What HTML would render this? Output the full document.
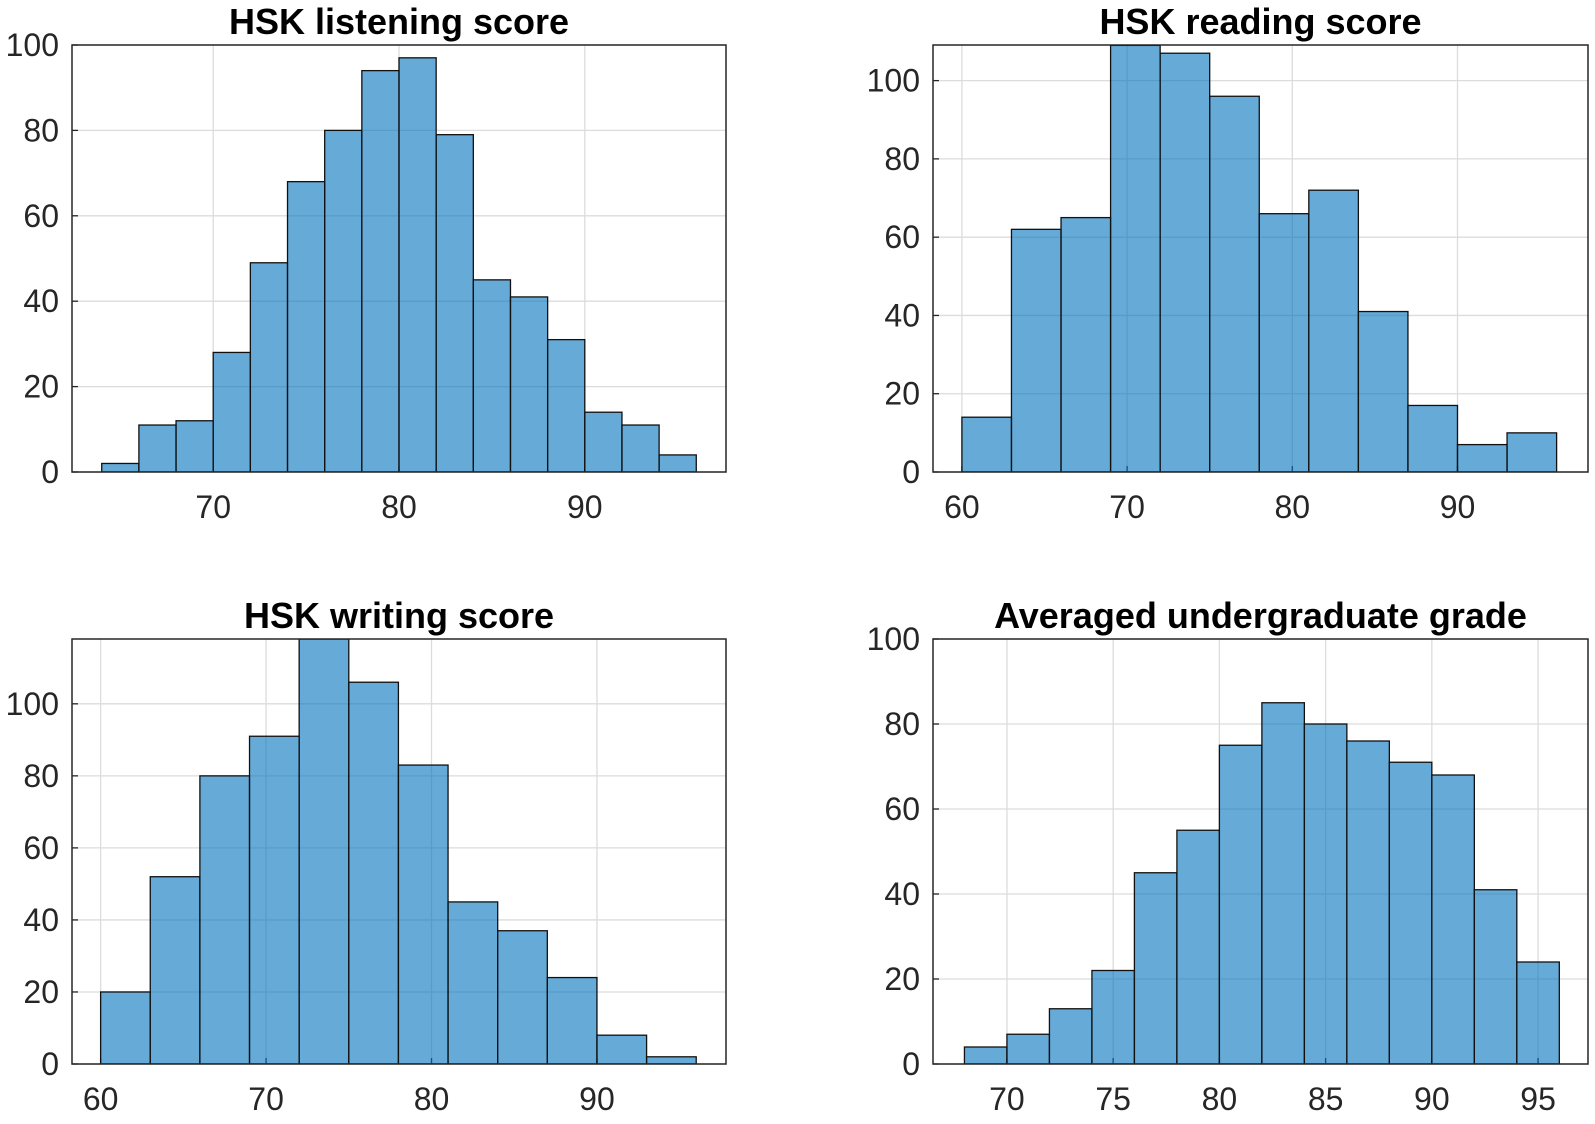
<!DOCTYPE html>
<html><head><meta charset="utf-8"><style>
body{margin:0;background:#fff;}
svg text{font-family:"Liberation Sans",Arial,sans-serif;}
</style></head><body>
<svg id="chart" width="1595" height="1119" xmlns="http://www.w3.org/2000/svg"></svg>
<script>
const titles=["HSK listening score","HSK reading score","HSK writing score","Averaged undergraduate grade"];
const binStarts=[64,60,60,68];
const binWidths=[2,3,3,2];
const listeningCounts=[2,11,12,28,49,68,80,94,97,79,45,41,31,14,11,4];
const readingCounts=[14,62,65,109,107,96,66,72,41,17,7,10];
const writingCounts=[20,52,80,91,118,106,83,45,37,24,8,2];
const gradeCounts=[4,7,13,22,45,55,75,85,80,76,71,68,41,24];
const xTicks=[[70,80,90],[60,70,80,90],[60,70,80,90],[70,75,80,85,90,95]];
const yTicks=[[0,20,40,60,80,100],[0,20,40,60,80,100],[0,20,40,60,80,100],[0,20,40,60,80,100]];
const xDomains=[[62.4,97.6],[58.25,97.9],[58.27,97.8],[66.52,97.35]];
const yMaxes=[100,109.1,118,100];
const counts=[listeningCounts,readingCounts,writingCounts,gradeCounts];
const boxes=[[72,45,726,472],[933,45,1588,472],[72,639,726,1064],[933,639,1588,1064]];
const NS="http://www.w3.org/2000/svg";
const svg=document.getElementById('chart');
function mk(t,a,p){const e=document.createElementNS(NS,t);for(const k in a)e.setAttribute(k,a[k]);(p||svg).appendChild(e);return e;}
for(let i=0;i<4;i++){
  const [x0,y0,x1,y1]=boxes[i];
  const [d0,d1]=xDomains[i];
  const xs=v=>x0+(v-d0)/(d1-d0)*(x1-x0);
  const ys=v=>y1-v/yMaxes[i]*(y1-y0);
  const g=mk('g',{});
  
  
  const clip=mk('clipPath',{id:'c'+i},g);
  mk('rect',{x:x0,y:y0,width:x1-x0,height:y1-y0},clip);
  xTicks[i].forEach(t=>{
    const l=mk('line',{x1:xs(t),x2:xs(t),y1:y0,y2:y1,stroke:'#dcdcdc','stroke-width':1.3},g);
    
    
    const tx=mk('text',{x:xs(t),y:y1+46,'text-anchor':'middle','font-size':32,fill:'#262626'},g);
    tx.textContent=t;
    
    
    mk('line',{x1:xs(t),x2:xs(t),y1:y1,y2:y1-6,stroke:'#262626','stroke-width':1.3},g);
  });
  yTicks[i].forEach(t=>{
    const l=mk('line',{x1:x0,x2:x1,y1:ys(t),y2:ys(t),stroke:'#dcdcdc','stroke-width':1.3},g);
    
    
    const tx=mk('text',{x:x0-13,y:ys(t)+11,'text-anchor':'end','font-size':32,fill:'#262626'},g);
    tx.textContent=t;
    
    
    mk('line',{x1:x0,x2:x0+6,y1:ys(t),y2:ys(t),stroke:'#262626','stroke-width':1.3},g);
  });
  const bg=mk('g',{'clip-path':'url(#c'+i+')'},g);
  counts[i].forEach((c,j)=>{
    const a=binStarts[i]+j*binWidths[i],b=a+binWidths[i];
    const r=mk('rect',{x:xs(a),y:ys(c),width:xs(b)-xs(a),height:ys(0)-ys(c),fill:'rgba(0,114,189,0.6)',stroke:'#111','stroke-width':1.3},bg);
    
    
  });
  const fr=mk('rect',{x:x0,y:y0,width:x1-x0,height:y1-y0,fill:'none',stroke:'#262626','stroke-width':1.5},g);
  
  
  const tt=mk('text',{x:(x0+x1)/2,y:y0-11,'text-anchor':'middle','font-size':36,'font-weight':'bold',fill:'#000'},g);
  tt.textContent=titles[i];
  
  
}
</script>
</body></html>
